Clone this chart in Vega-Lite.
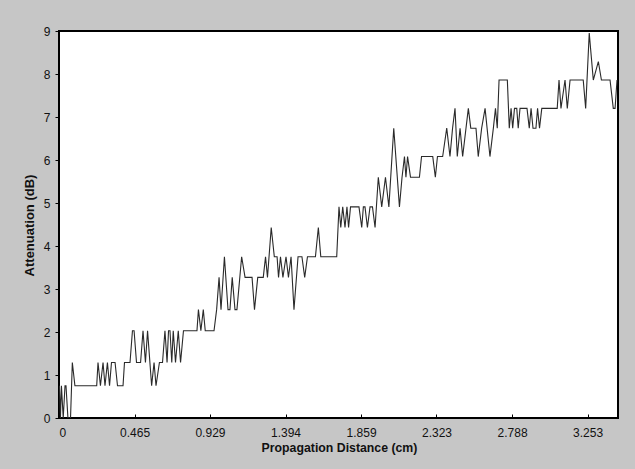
{
  "$schema": "https://vega.github.io/schema/vega-lite/v6.json",
  "width": 559,
  "height": 387,
  "autosize": "none",
  "padding": {"left": 59, "top": 31, "right": 17, "bottom": 51},
  "background": "#c6c6c6",
  "config": {
    "view": {"fill": "white", "stroke": "black", "strokeWidth": 2},
    "font": "Liberation Sans",
    "axis": {
      "grid": false,
      "domain": false,
      "tickColor": "black",
      "labelColor": "#111",
      "labelFont": "Liberation Sans",
      "labelFontSize": 12,
      "titleFont": "Liberation Sans",
      "titleFontWeight": "bold",
      "titleColor": "#111"
    }
  },
  "data": {
    "values": [
      {"d": 0.003, "a": 0.75}, {"d": 0.009, "a": 0}, {"d": 0.015, "a": 0.75}, {"d": 0.026, "a": 0},
      {"d": 0.037, "a": 0.75}, {"d": 0.043, "a": 0.75}, {"d": 0.055, "a": 0}, {"d": 0.071, "a": 0},
      {"d": 0.082, "a": 1.29}, {"d": 0.098, "a": 0.75}, {"d": 0.232, "a": 0.75}, {"d": 0.240, "a": 1.29},
      {"d": 0.255, "a": 0.75}, {"d": 0.271, "a": 1.29}, {"d": 0.283, "a": 0.75}, {"d": 0.298, "a": 1.29},
      {"d": 0.311, "a": 0.75}, {"d": 0.323, "a": 1.29}, {"d": 0.345, "a": 1.29}, {"d": 0.360, "a": 0.75},
      {"d": 0.394, "a": 0.75}, {"d": 0.403, "a": 1.29}, {"d": 0.437, "a": 1.29}, {"d": 0.452, "a": 2.03},
      {"d": 0.462, "a": 2.03}, {"d": 0.477, "a": 1.29}, {"d": 0.502, "a": 1.29}, {"d": 0.517, "a": 2.03},
      {"d": 0.532, "a": 1.29}, {"d": 0.545, "a": 2.03}, {"d": 0.570, "a": 0.75}, {"d": 0.585, "a": 1.29},
      {"d": 0.597, "a": 0.75}, {"d": 0.618, "a": 1.29}, {"d": 0.637, "a": 1.29}, {"d": 0.652, "a": 2.03},
      {"d": 0.665, "a": 1.29}, {"d": 0.674, "a": 2.03}, {"d": 0.683, "a": 2.03}, {"d": 0.694, "a": 1.29},
      {"d": 0.703, "a": 2.03}, {"d": 0.717, "a": 1.29}, {"d": 0.734, "a": 2.03}, {"d": 0.748, "a": 1.29},
      {"d": 0.766, "a": 2.03}, {"d": 0.849, "a": 2.03}, {"d": 0.858, "a": 2.52}, {"d": 0.873, "a": 2.03},
      {"d": 0.888, "a": 2.52}, {"d": 0.900, "a": 2.03}, {"d": 0.954, "a": 2.03}, {"d": 0.970, "a": 2.52},
      {"d": 0.985, "a": 3.27}, {"d": 0.997, "a": 2.52}, {"d": 1.018, "a": 3.75}, {"d": 1.040, "a": 2.52},
      {"d": 1.052, "a": 2.52}, {"d": 1.066, "a": 3.27}, {"d": 1.083, "a": 2.52}, {"d": 1.095, "a": 2.52},
      {"d": 1.124, "a": 3.75}, {"d": 1.145, "a": 3.27}, {"d": 1.188, "a": 3.27}, {"d": 1.203, "a": 2.52},
      {"d": 1.223, "a": 3.27}, {"d": 1.257, "a": 3.27}, {"d": 1.271, "a": 3.75}, {"d": 1.283, "a": 3.27},
      {"d": 1.306, "a": 4.43}, {"d": 1.325, "a": 3.75}, {"d": 1.342, "a": 3.75}, {"d": 1.351, "a": 3.27},
      {"d": 1.363, "a": 3.75}, {"d": 1.378, "a": 3.27}, {"d": 1.397, "a": 3.75}, {"d": 1.412, "a": 3.27},
      {"d": 1.428, "a": 3.75}, {"d": 1.446, "a": 2.52}, {"d": 1.471, "a": 3.75}, {"d": 1.495, "a": 3.75},
      {"d": 1.512, "a": 3.27}, {"d": 1.529, "a": 3.75}, {"d": 1.578, "a": 3.75}, {"d": 1.596, "a": 4.43},
      {"d": 1.611, "a": 3.75}, {"d": 1.709, "a": 3.75}, {"d": 1.723, "a": 4.91}, {"d": 1.734, "a": 4.43},
      {"d": 1.746, "a": 4.91}, {"d": 1.760, "a": 4.43}, {"d": 1.772, "a": 4.91}, {"d": 1.782, "a": 4.43},
      {"d": 1.794, "a": 4.91}, {"d": 1.846, "a": 4.91}, {"d": 1.863, "a": 4.43}, {"d": 1.873, "a": 4.91},
      {"d": 1.883, "a": 4.91}, {"d": 1.898, "a": 4.43}, {"d": 1.914, "a": 4.91}, {"d": 1.929, "a": 4.91},
      {"d": 1.945, "a": 4.43}, {"d": 1.965, "a": 5.6}, {"d": 1.986, "a": 4.91}, {"d": 2.009, "a": 5.6},
      {"d": 2.030, "a": 4.91}, {"d": 2.060, "a": 6.74}, {"d": 2.095, "a": 4.91}, {"d": 2.111, "a": 5.6},
      {"d": 2.126, "a": 6.08}, {"d": 2.135, "a": 5.6}, {"d": 2.145, "a": 6.08}, {"d": 2.163, "a": 5.6},
      {"d": 2.218, "a": 5.6}, {"d": 2.231, "a": 6.08}, {"d": 2.300, "a": 6.08}, {"d": 2.316, "a": 5.6},
      {"d": 2.329, "a": 6.08}, {"d": 2.361, "a": 6.08}, {"d": 2.386, "a": 6.74}, {"d": 2.406, "a": 6.08},
      {"d": 2.422, "a": 6.74}, {"d": 2.437, "a": 7.2}, {"d": 2.451, "a": 6.08}, {"d": 2.468, "a": 6.74},
      {"d": 2.484, "a": 6.08}, {"d": 2.519, "a": 7.2}, {"d": 2.534, "a": 6.74}, {"d": 2.566, "a": 6.74},
      {"d": 2.580, "a": 6.08}, {"d": 2.601, "a": 6.74}, {"d": 2.622, "a": 7.2}, {"d": 2.652, "a": 6.08},
      {"d": 2.673, "a": 6.74}, {"d": 2.686, "a": 7.2}, {"d": 2.697, "a": 6.74}, {"d": 2.708, "a": 7.86},
      {"d": 2.759, "a": 7.86}, {"d": 2.771, "a": 6.74}, {"d": 2.782, "a": 7.2}, {"d": 2.792, "a": 6.74},
      {"d": 2.803, "a": 7.2}, {"d": 2.817, "a": 7.2}, {"d": 2.826, "a": 6.74}, {"d": 2.837, "a": 7.2},
      {"d": 2.880, "a": 7.2}, {"d": 2.894, "a": 6.74}, {"d": 2.905, "a": 7.2}, {"d": 2.917, "a": 6.74},
      {"d": 2.935, "a": 6.74}, {"d": 2.945, "a": 7.2}, {"d": 2.957, "a": 6.74}, {"d": 2.971, "a": 7.2},
      {"d": 3.066, "a": 7.2}, {"d": 3.077, "a": 7.86}, {"d": 3.089, "a": 7.2}, {"d": 3.114, "a": 7.86},
      {"d": 3.128, "a": 7.2}, {"d": 3.145, "a": 7.86}, {"d": 3.226, "a": 7.86}, {"d": 3.241, "a": 7.2},
      {"d": 3.263, "a": 8.95}, {"d": 3.288, "a": 7.86}, {"d": 3.319, "a": 8.29}, {"d": 3.338, "a": 7.86},
      {"d": 3.391, "a": 7.86}, {"d": 3.411, "a": 7.2}, {"d": 3.422, "a": 7.2}, {"d": 3.434, "a": 7.86}
    ]
  },
  "mark": {"type": "line", "color": "#2a2a2a", "strokeWidth": 1.1, "clip": true},
  "encoding": {
    "x": {
      "field": "d",
      "type": "quantitative",
      "scale": {"domain": [0, 3.44], "nice": false, "zero": false},
      "axis": {
        "values": [0, 0.465, 0.929, 1.394, 1.859, 2.323, 2.788, 3.253],
        "format": ".3~f",
        "tickSize": -4,
        "labelPadding": 13,
        "title": "Propagation Distance (cm)",
        "titleFontSize": 12.3,
        "titleX": 280,
        "titleY": 29,
        "titleAlign": "center",
        "titleBaseline": "middle"
      }
    },
    "y": {
      "field": "a",
      "type": "quantitative",
      "scale": {"domain": [0, 9], "nice": false},
      "axis": {
        "values": [0, 1, 2, 3, 4, 5, 6, 7, 8, 9],
        "tickSize": 4,
        "labelPadding": 5,
        "title": "Attenuation (dB)",
        "titleFontSize": 13,
        "titleAngle": -90,
        "titleX": -30,
        "titleY": 194,
        "titleAlign": "center",
        "titleBaseline": "middle"
      }
    }
  }
}
